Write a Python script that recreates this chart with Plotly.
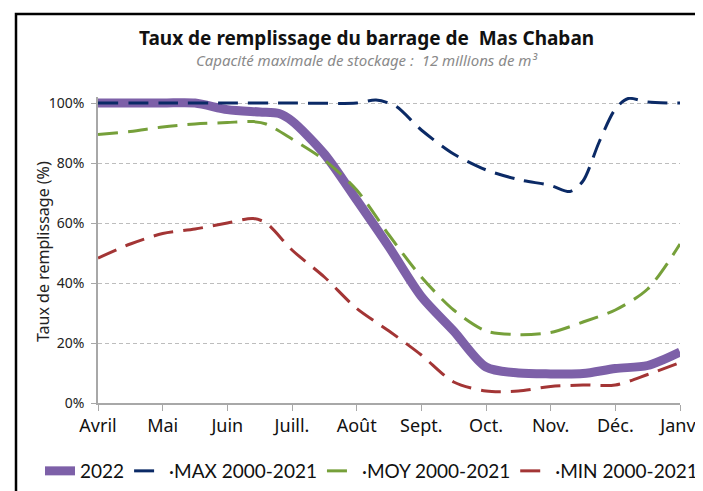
import plotly.graph_objects as go

months = ["Avril", "Mai", "Juin", "Juill.", "Août", "Sept.", "Oct.", "Nov.", "Déc.", "Janv."]
month_pos = list(range(len(months)))

x_2022 = [0, 1, 1.5, 2, 2.5, 2.8, 3, 3.5, 4, 4.5, 5, 5.5, 6, 6.5, 7, 7.5, 8, 8.5, 9]
y_2022 = [100, 100, 100, 97.8, 97, 96.5, 94, 83, 67.7, 52, 35.5, 24, 12, 10, 9.7, 9.8, 11.5, 12.5, 17]

x_max = [0, 1, 2, 3, 4, 4.3, 4.6, 5, 5.5, 6, 6.5, 7, 7.3, 7.5, 7.75, 8, 8.2, 8.5, 9]
y_max = [100, 100, 100, 100, 100, 101, 99, 91, 83, 77.7, 74.5, 72.5, 70.5, 74, 87, 98, 101.5, 100.3, 100]

x_moy = [0, 0.5, 1, 1.5, 2, 2.4, 2.6, 3, 3.5, 4, 4.5, 5, 5.5, 6, 6.5, 7, 7.5, 8, 8.5, 9]
y_moy = [89.5, 90.5, 92, 93, 93.5, 93.8, 93, 88, 81, 71, 56, 42, 31, 24, 22.8, 23.5, 27, 31, 38, 53]

x_min = [0, 0.5, 1, 1.5, 2, 2.4, 2.6, 3, 3.5, 4, 4.5, 5, 5.5, 6, 6.5, 7, 7.5, 8, 8.5, 9]
y_min = [48.3, 53, 56.5, 58, 60, 61.5, 60, 51, 42, 31.5, 24, 16, 7, 4, 4, 5.5, 6, 6, 9.5, 13.5]

y_ticks = [0, 20, 40, 60, 80, 100]
y_ticktext = [f"{v}%" for v in y_ticks]

FONT = "Noto Sans"

fig = go.Figure()
fig.add_trace(go.Scatter(x=x_2022, y=y_2022, mode="lines", name="2022",
                         line=dict(color="#7D60A8", width=9, shape="spline", smoothing=0.8)))
fig.add_trace(go.Scatter(x=x_max, y=y_max, mode="lines", name="·MAX 2000-2021",
                         line=dict(color="#0B2A66", width=3, dash="20px,10px", shape="spline", smoothing=0.8)))
fig.add_trace(go.Scatter(x=x_moy, y=y_moy, mode="lines", name="·MOY 2000-2021",
                         line=dict(color="#76A03A", width=3, dash="20px,10px", shape="spline", smoothing=0.8)))
fig.add_trace(go.Scatter(x=x_min, y=y_min, mode="lines", name="·MIN 2000-2021",
                         line=dict(color="#A33535", width=3, dash="20px,10px", shape="spline", smoothing=0.8)))

# page body has an 8px margin: design in screen pixels, convert to figure pixels
OFF = 8
W, H = 703 - OFF, 491 - OFF
L, R, T, B = 98 - OFF, 23, 97 - OFF, 88
pw, ph = W - L - R, H - T - B
def px(xs):
    return (xs - OFF - L) / pw
def py(ys):
    return (H - B - (ys - OFF)) / ph

fig.add_shape(type="path", xref="paper", yref="paper",
              path=f"M {px(16)},{py(520)} L {px(16)},{py(14)} L {px(730)},{py(14)}",
              line=dict(color="black", width=2.5))

fig.update_layout(
    width=W, height=H,
    margin=dict(l=L, r=R, t=T, b=B, autoexpand=False),
    paper_bgcolor="white", plot_bgcolor="white",
    font=dict(family=FONT, color="#222"),
    showlegend=True,
    legend=dict(orientation="h", x=px(40), xanchor="left", y=py(471), yanchor="middle",
                font=dict(size=19, color="#111", family="Lato"), itemwidth=30, tracegroupgap=0,
                bgcolor="rgba(0,0,0,0)"),
    annotations=[
        dict(text="<b>Taux de remplissage du barrage de  Mas Chaban</b>", xref="paper", yref="paper",
             x=px(366), y=py(38), xanchor="center", yanchor="middle", showarrow=False,
             font=dict(size=19, color="#111", family=FONT)),
        dict(text="<i>Capacité maximale de stockage :  12 millions de m³</i>", xref="paper", yref="paper",
             x=px(366), y=py(60), xanchor="center", yanchor="middle", showarrow=False,
             font=dict(size=15, color="#8a8a8a", family=FONT)),
        dict(text="Taux de remplissage (%)", xref="paper", yref="paper",
             x=px(43), y=py(252), xanchor="center", yanchor="middle", showarrow=False,
             textangle=-90, font=dict(size=16, color="#222", family=FONT)),
    ],
)
fig.update_xaxes(range=[0, 9], tickvals=month_pos, ticktext=months, showgrid=False,
                 showline=True, linecolor="#a8a8a8", linewidth=1.5, ticks="outside",
                 ticklen=6, tickcolor="#a8a8a8", tickfont=dict(size=18, color="#111"),
                 zeroline=False)
fig.update_yaxes(range=[0, 102], tickvals=y_ticks, ticktext=y_ticktext, showgrid=True,
                 gridcolor="#bdbdbd", griddash="4px,3px", gridwidth=1,
                 showline=True, linecolor="#a8a8a8", linewidth=1.5, ticks="outside",
                 ticklen=5, tickcolor="#a8a8a8", tickfont=dict(size=14, color="#222"),
                 ticklabelstandoff=4, zeroline=False)

fig.write_html("out.html")
